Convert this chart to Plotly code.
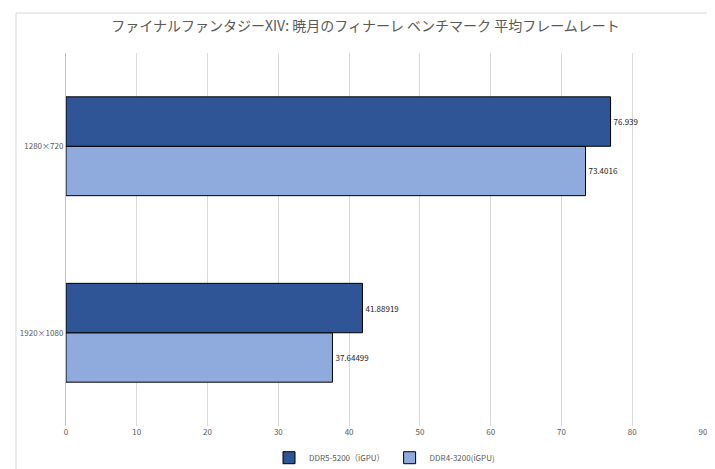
import plotly.graph_objects as go

categories = ['1920×1080', '1280×720']
ddr5 = [41.88919, 76.939]
ddr4 = [37.64499, 73.4016]
x_ticks = [0, 10, 20, 30, 40, 50, 60, 70, 80, 90]

font = "Noto Sans CJK JP"
fig = go.Figure()
fig.add_bar(y=categories, x=ddr4, orientation='h', name='DDR4-3200(iGPU)',
            marker=dict(color='#8FAADC', line=dict(color='#000000', width=1)),
            text=[str(v) for v in ddr4], textposition='outside',
            textfont=dict(size=8, color='#222222'), cliponaxis=False)
fig.add_bar(y=categories, x=ddr5, orientation='h', name='DDR5-5200（iGPU）',
            marker=dict(color='#2F5597', line=dict(color='#000000', width=1)),
            text=[str(v) for v in ddr5], textposition='outside',
            textfont=dict(size=8, color='#222222'), cliponaxis=False)

L, R, T, B = 58, 20, 45, 51
pw, ph = 715 - L - R, 469 - T - B
fig.update_layout(
    width=715, height=469, margin=dict(l=L, r=R, t=T, b=B, autoexpand=False),
    paper_bgcolor='white', plot_bgcolor='white',
    font=dict(family=font, size=8, color='#444444'),
    title=dict(text='ファイナルファンタジーXIV: 暁月のフィナーレ ベンチマーク 平均フレームレート',
               x=0.5, xanchor='center', y=0.962, yanchor='middle',
               font=dict(size=14, color='#595959', family=font)),
    barmode='group', bargap=0.47, bargroupgap=0,
    xaxis=dict(range=[0, 90], tickvals=x_ticks, showgrid=True, gridcolor='#D9D9D9',
               zeroline=False, showline=False, ticks='', automargin=False,
               tickfont=dict(size=8, color='#595959')),
    yaxis=dict(categoryorder='array', categoryarray=categories, showgrid=False,
               showline=True, linecolor='#BFBFBF', ticks='', automargin=False,
               tickfont=dict(size=8, color='#595959')),
    legend=dict(orientation='h', x=0.5, xanchor='center', y=-0.085, yanchor='middle',
                traceorder='reversed', font=dict(size=8, color='#595959')),
    shapes=[dict(type='rect', xref='paper', yref='paper',
                 x0=(8 - L) / pw, x1=(707 - L) / pw,
                 y0=-(462 - (469 - B)) / ph, y1=((469 - B) - 5) / ph,
                 line=dict(color='#D9D9D9', width=1), layer='below')],
)
fig.write_html("out.html")
